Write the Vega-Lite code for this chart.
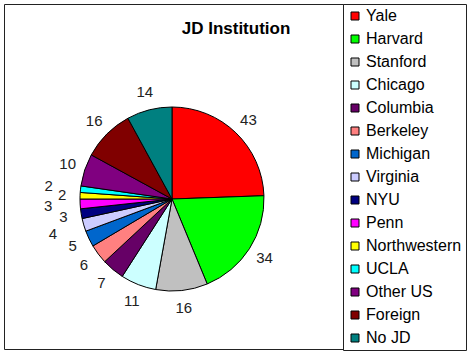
{
  "$schema": "https://vega.github.io/schema/vega-lite/v6.json",
  "width": 339,
  "height": 345,
  "autosize": {"type": "none"},
  "padding": {"left": 4, "top": 4, "right": 131, "bottom": 5},
  "background": "white",
  "view": {"stroke": "#222", "strokeWidth": 1, "fill": "white"},
  "config": {
    "font": "Liberation Sans"
  },
  "title": {
    "text": "JD Institution",
    "font": "Liberation Sans",
    "fontSize": 17,
    "fontWeight": "bold",
    "color": "#000",
    "anchor": "middle",
    "frame": "group",
    "baseline": "alphabetic",
    "offset": -47,
    "dx": 62.5
  },
  "data": {
    "values": [
      {"school": "Yale", "count": 43},
      {"school": "Harvard", "count": 34},
      {"school": "Stanford", "count": 16},
      {"school": "Chicago", "count": 11},
      {"school": "Columbia", "count": 7},
      {"school": "Berkeley", "count": 6},
      {"school": "Michigan", "count": 5},
      {"school": "Virginia", "count": 4},
      {"school": "NYU", "count": 3},
      {"school": "Penn", "count": 3},
      {"school": "Northwestern", "count": 2},
      {"school": "UCLA", "count": 2},
      {"school": "Other US", "count": 10},
      {"school": "Foreign", "count": 16},
      {"school": "No JD", "count": 14}
    ]
  },
  "transform": [{"window": [{"op": "row_number", "as": "idx"}]}],
  "encoding": {
    "theta": {"field": "count", "type": "quantitative", "stack": true},
    "order": {"field": "idx", "type": "quantitative"}
  },
  "layer": [
    {
      "mark": {"type": "arc", "radius": 92, "stroke": "#000", "strokeWidth": 1, "xOffset": -1.5, "yOffset": 22.5},
      "encoding": {
        "color": {
          "field": "school",
          "type": "nominal",
          "scale": {
            "domain": ["Yale", "Harvard", "Stanford", "Chicago", "Columbia", "Berkeley", "Michigan", "Virginia", "NYU", "Penn", "Northwestern", "UCLA", "Other US", "Foreign", "No JD"],
            "range": ["#FF0000", "#00FF00", "#C0C0C0", "#CCFFFF", "#660066", "#FF8080", "#0066CC", "#CCCCFF", "#000080", "#FF00FF", "#FFFF00", "#00FFFF", "#800080", "#800000", "#008080"]
          },
          "legend": {
            "title": null,
            "orient": "none",
            "legendX": 339,
            "legendY": 0,
            "strokeColor": "#222",
            "padding": 4,
            "symbolType": "square",
            "symbolSize": 64,
            "symbolStrokeColor": "#000",
            "symbolStrokeWidth": 1,
            "labelFont": "Liberation Sans",
            "labelFontSize": 16,
            "labelColor": "#000",
            "labelOffset": 3,
            "rowPadding": 7,
            "labelLimit": 200
          }
        }
      }
    },
    {
      "mark": {
        "type": "text",
        "radius": {"expr": "(datum.idx == 8 || datum.idx == 10 || datum.idx == 12) ? 124 : 110"},
        "fontSize": 15,
        "font": "Liberation Sans",
        "color": "#222",
        "align": "center",
        "baseline": "middle",
        "xOffset": -1.5,
        "yOffset": 22.5
      },
      "encoding": {
        "text": {"field": "count", "type": "quantitative"}
      }
    }
  ]
}
